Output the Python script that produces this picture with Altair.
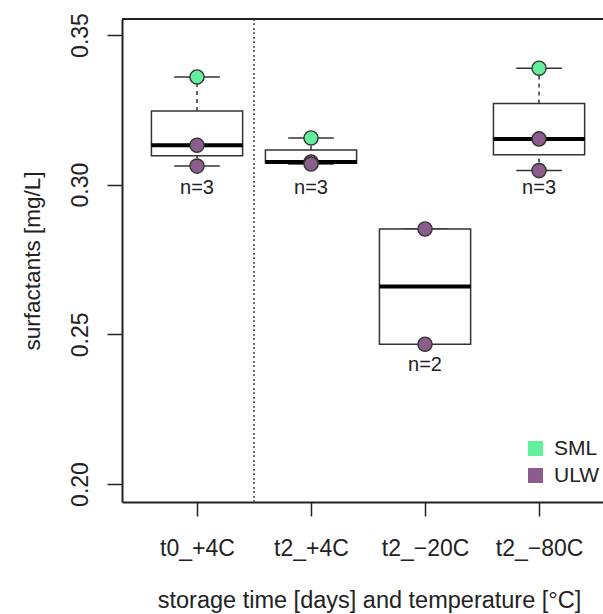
import json
import math
import altair as alt
import pandas as pd

# ---- data ----
categories = ["t0_+4C", "t2_+4C", "t2_\u221220C", "t2_\u221280C"]
sml_values = [0.3360, 0.3156, None, 0.3389]
ulw_values_a = [0.3132, 0.3076, 0.2852, 0.3153]
ulw_values_b = [0.3062, 0.3069, 0.2467, 0.3047]
n_label_y = [0.2989, 0.2989, 0.2396, 0.2989]
y_ticks = [0.20, 0.25, 0.30, 0.35]
series = ["SML", "ULW"]
series_colors = ["#63ef9c", "#8a5d8c"]

FONT = "Liberation Sans"
INK = "#222222"
W, H = 481, 483


def fivenum(vals):
    x = sorted(vals)
    n = len(x)
    n4 = math.floor((n + 3) / 2) / 2
    d = [1, n4, (n + 1) / 2, n + 1 - n4, n]
    return [0.5 * (x[math.floor(di - 1)] + x[math.ceil(di - 1)]) for di in d]


box_rows, pt_rows = [], []
for i, cat in enumerate(categories):
    pos = i + 1
    vals = []
    if sml_values[i] is not None:
        vals.append(sml_values[i])
        pt_rows.append({"pos": pos, "value": sml_values[i], "type": "SML", "order": 1})
    for v in (ulw_values_a[i], ulw_values_b[i]):
        vals.append(v)
        pt_rows.append({"pos": pos, "value": v, "type": "ULW", "order": 0})
    mn, q1, med, q3, mx = fivenum(vals)
    box_rows.append({
        "pos": pos, "xl": pos - 0.4, "xr": pos + 0.4, "cl": pos - 0.2, "cr": pos + 0.2,
        "min": mn, "q1": q1, "med": med, "q3": q3, "max": mx,
        "label": f"n={len(vals)}", "ly": n_label_y[i],
    })

boxes = pd.DataFrame(box_rows)
points = pd.DataFrame(pt_rows)

xscale = alt.Scale(domain=[0.342, 4.561], nice=False, zero=False)
yscale = alt.Scale(domain=[0.19399, 0.35535], nice=False, zero=False)

label_expr = json.dumps(categories) + "[datum.value - 1]"

x_axis = alt.Axis(
    values=[1, 2, 3, 4], labelExpr=label_expr, grid=False,
    tickSize=14, tickWidth=1.5, tickColor=INK, domainColor=INK, domainWidth=2,
    labelFont=FONT, labelFontSize=23, labelColor=INK, labelBaseline="alphabetic",
    labelPadding=39, labelAngle=0,
    title="storage time [days] and temperature [\u00b0C]", titleFont=FONT,
    titleFontSize=23.5, titleFontWeight="normal", titleColor=INK,
    titleX=247, titleY=105, titleBaseline="alphabetic", titleAlign="center",
)
y_axis = alt.Axis(
    values=y_ticks, format=".2f", grid=False,
    tickSize=15, tickWidth=1.5, tickColor=INK, domainColor=INK, domainWidth=2,
    labelFont=FONT, labelFontSize=23, labelColor=INK, labelAngle=270,
    labelAlign="center", labelBaseline="alphabetic", labelPadding=20,
    title="surfactants [mg/L]", titleFont=FONT, titleFontSize=22.5,
    titleFontWeight="normal", titleColor=INK, titleAngle=270,
    titleX=-90, titleY=H / 2, titleBaseline="middle", titleAlign="center",
)


def X(field, **kw):
    return alt.X(field, scale=xscale, axis=x_axis, **kw)


def Y(field, **kw):
    return alt.Y(field, scale=yscale, axis=y_axis, **kw)


base = alt.Chart(boxes)

box_layer = base.mark_rect(fill="white", stroke="#333333", strokeWidth=1.5).encode(
    x=X("xl:Q"), x2="xr:Q", y=Y("q1:Q"), y2="q3:Q",
)

median_layer = base.mark_rule(color="#000000", strokeWidth=4).encode(
    x=X("xl:Q"), x2="xr:Q", y=Y("med:Q"),
)

upper_whisker = base.mark_rule(color="#333333", strokeWidth=1.5, strokeDash=[4, 4]).encode(
    x=X("pos:Q"), y=Y("q3:Q"), y2="max:Q",
)
lower_whisker = base.mark_rule(color="#333333", strokeWidth=1.5, strokeDash=[4, 4]).encode(
    x=X("pos:Q"), y=Y("min:Q"), y2="q1:Q",
)
cap_top = base.mark_rule(color="#333333", strokeWidth=1.5).encode(
    x=X("cl:Q"), x2="cr:Q", y=Y("max:Q"),
)
cap_bot = base.mark_rule(color="#333333", strokeWidth=1.5).encode(
    x=X("cl:Q"), x2="cr:Q", y=Y("min:Q"),
)

n_text = base.mark_text(font=FONT, fontSize=20, color=INK, baseline="middle", align="center").encode(
    x=X("pos:Q"), y=Y("ly:Q"), text="label:N",
)

separator = alt.Chart(boxes).mark_rule(color="#666666", strokeWidth=1.5, strokeDash=[1.5, 3]).encode(
    x=alt.X(datum=1.5, scale=xscale, axis=x_axis),
    y=alt.value(0), y2=alt.value(H),
)

top_frame = alt.Chart(boxes).mark_rule(color=INK, strokeWidth=2).encode(
    x=alt.value(0), x2=alt.value(W), y=alt.value(0),
)

point_layer = alt.Chart(points).mark_circle(
    size=200, stroke="#333333", strokeWidth=1.4, opacity=1
).encode(
    x=X("pos:Q"),
    y=Y("value:Q"),
    color=alt.Color(
        "type:N",
        scale=alt.Scale(domain=series, range=series_colors),
        legend=alt.Legend(
            title=None, orient="none", legendX=403, legendY=419, padding=0,
            symbolType="square", symbolSize=225, symbolStrokeWidth=0, symbolOpacity=1,
            labelFont=FONT, labelFontSize=21, labelColor=INK, labelOffset=8,
            rowPadding=5,
        ),
    ),
    order="order:Q",
)

chart = alt.layer(
    separator, upper_whisker, lower_whisker, cap_top, cap_bot,
    box_layer, median_layer, point_layer, n_text, top_frame,
).properties(
    width=W, height=H,
    autosize=alt.AutoSizeParams(type="none"),
    padding={"left": 122, "top": 19, "right": 0, "bottom": 112},
    background="white",
).configure_view(stroke=None)

chart.save("out.html", embed_options={"renderer": "svg", "actions": False})
